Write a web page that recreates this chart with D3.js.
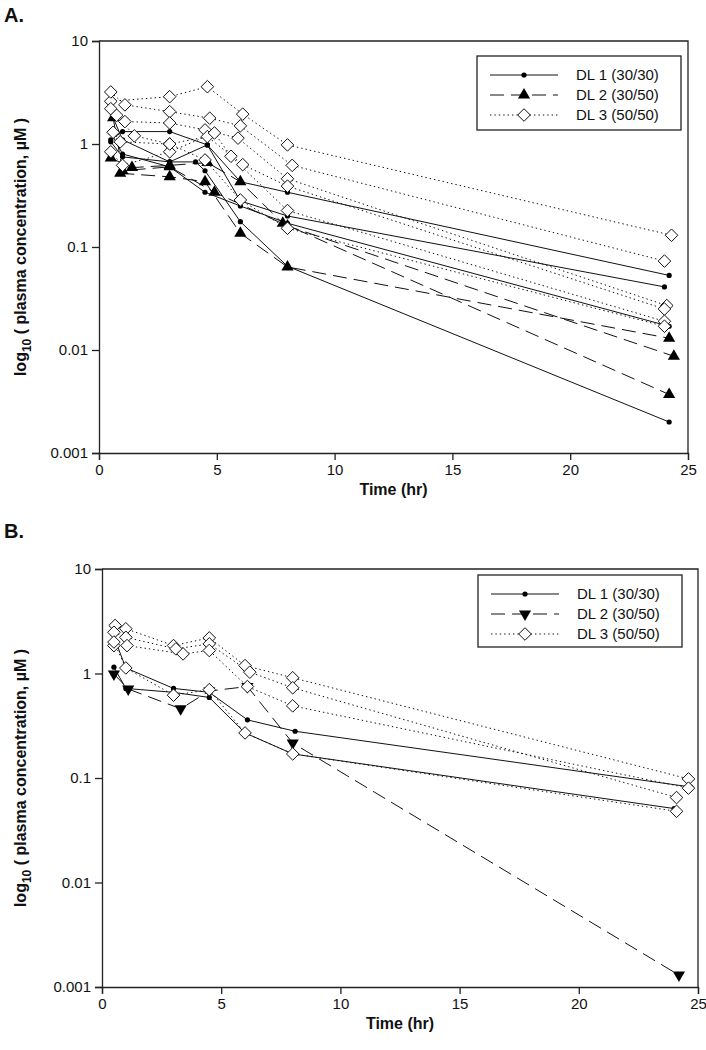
<!DOCTYPE html>
<html><head><meta charset="utf-8">
<script src="https://cdn.jsdelivr.net/npm/d3@7"></script>
<style>
body{margin:0;background:#fff}
svg{display:block}
text{font-family:"Liberation Sans",Arial,sans-serif;fill:#111}
</style>
</head><body>
<svg id="c" width="706" height="1050"></svg>
<script>
// ---------- shared tick labels / legend ----------
const xTicks = [0, 5, 10, 15, 20, 25];
const yTicks = [0.001, 0.01, 0.1, 1, 10];
const yTickLabels = ["0.001", "0.01", "0.1", "1", "10"];
const legendLabels = ["DL 1 (30/30)", "DL 2 (30/50)", "DL 3 (50/50)"];
const xTitle = "Time (hr)";

// ---------- Panel A data: [time (hr), concentration (uM)] per patient ----------
const A_DL1 = [
  [[0.5,1.1],[1,1.32],[3,1.32],[4.6,0.98],[6,0.43],[8,0.34],[24.2,0.053]],
  [[0.6,1.8],[1,1.1],[3,0.67],[4.6,0.98],[6,0.28],[8,0.2],[24,0.041]],
  [[0.5,1.05],[1,0.75],[3,0.67],[4.1,0.67],[4.5,0.55],[6,0.176],[8,0.065],[24.2,0.002]],
  [[0.5,1.3],[1,0.8],[3,0.6],[4.5,0.34],[6,0.25],[8,0.17],[24.2,0.017]]
];
const A_DL2 = [
  [[0.5,0.73],[1.4,0.59],[3,0.62],[4.6,0.66],[6,0.43],[7.8,0.17],[24.2,0.0037]],
  [[0.9,0.52],[3,0.48],[4.5,0.43],[6,0.136],[8,0.064],[24.2,0.013]],
  [[0.6,1.8],[1,0.55],[3,0.6],[4.9,0.34],[8,0.16],[24.4,0.0087]]
];
const A_DL3 = [
  [[0.5,2.6],[3,2.88],[4.6,3.6],[6.1,1.95],[8,0.98],[24.3,0.13]],
  [[0.5,3.2],[1.1,2.4],[3,2.06],[4.7,1.78],[6,1.5],[8.2,0.62],[24,0.073]],
  [[0.5,2.2],[1.1,1.65],[3,1.6],[4.5,1.37],[5.9,1.14],[8,0.46],[24.1,0.027]],
  [[0.6,1.3],[0.9,1.05],[3,1.0],[4.6,1.18],[6.1,0.63],[8,0.39],[24,0.025]],
  [[0.5,0.84],[1,0.62],[3,0.84],[4.9,1.28],[5.6,0.76],[8,0.226],[24,0.019]],
  [[0.75,1.9],[1.5,1.2],[3,1.0],[4.5,0.7],[6,0.286],[8,0.152],[24,0.017]]
];

// ---------- Panel B data ----------
const B_DL1 = [
  [[0.45,2.4],[1,1.13],[3,0.72],[4.5,0.66],[6.1,0.36],[8.1,0.28],[24.7,0.082]],
  [[0.5,1.15],[1,0.72],[3,0.66],[4.5,0.59],[6,0.27],[8,0.17],[24,0.051]]
];
const B_DL2 = [
  [[0.5,0.99],[1.1,0.71],[3.3,0.46],[4.5,0.68],[6.1,0.75],[8,0.216],[24.2,0.0013]]
];
const B_DL3 = [
  [[0.55,2.88],[1,2.68],[3,1.85],[4.5,2.19],[6,1.19],[8,0.91],[24.6,0.098]],
  [[0.5,2.48],[1,2.22],[3.1,1.72],[4.5,1.92],[6.2,1.03],[8,0.73],[24.1,0.065]],
  [[0.5,1.85],[1.05,1.85],[3.4,1.54],[4.5,1.66],[6.1,0.75],[8,0.49],[24.6,0.08]],
  [[0.5,2.0],[1,1.13],[3,0.62],[4.5,0.70],[6,0.27],[8,0.17],[24.1,0.048]]
];

const svg = d3.select("#c");

function diamondPath(r){ return `M0,${-r}L${r},0L0,${r}L${-r},0Z`; }

function drawPanel(cfg){
  const g = svg.append("g");
  const x = d3.scaleLinear().domain([0,25]).range([cfg.left, cfg.right]);
  const y = d3.scaleLog().domain([0.001,10]).range([cfg.bottom, cfg.top]);

  g.append("text").attr("x", 4).attr("y", cfg.letterY)
    .attr("font-size", 20).attr("font-weight", "bold").text(cfg.letter);

  g.append("path")
    .attr("d", `M${cfg.left},${cfg.top}H${cfg.right}V${cfg.bottom}`)
    .attr("fill","none").attr("stroke","#222").attr("stroke-width",1.3);

  const yAxis = d3.axisLeft(y).tickValues(yTicks)
    .tickFormat((d,i)=>yTickLabels[i]).tickSize(7).tickPadding(4);
  const ya = g.append("g").attr("transform",`translate(${cfg.left},0)`).call(yAxis);
  const xAxis = d3.axisBottom(x).tickValues(xTicks).tickSize(7).tickPadding(4);
  const xa = g.append("g").attr("transform",`translate(0,${cfg.bottom})`).call(xAxis);
  [ya, xa].forEach(a=>{
    a.select(".domain").attr("stroke","#222").attr("stroke-width",1.3);
    a.selectAll(".tick line").attr("stroke","#222").attr("stroke-width",1.3);
    a.selectAll(".tick text").attr("font-size",15)
      .attr("font-family","'Liberation Sans',Arial,sans-serif").attr("fill","#111");
  });

  g.append("text").attr("x",(cfg.left+cfg.right)/2).attr("y",cfg.bottom+42)
    .attr("text-anchor","middle").attr("font-size",16).attr("font-weight","bold").text(xTitle);
  const yt = g.append("text")
    .attr("transform",`translate(26,${(cfg.top+cfg.bottom)/2}) rotate(-90)`)
    .attr("text-anchor","middle").attr("font-size",16).attr("font-weight","bold");
  yt.append("tspan").text("log");
  yt.append("tspan").attr("font-size",12).attr("dy",5).text("10");
  yt.append("tspan").attr("dy",-5).text(" ( plasma concentration, \u00B5M )");

  const line = d3.line().x(d=>x(d[0])).y(d=>y(d[1]));
  const styles = [
    {data: cfg.dl1, dash: null, marker: "circle"},
    {data: cfg.dl2, dash: "14,7", marker: "triangle"},
    {data: cfg.dl3, dash: "1.4,3", marker: "diamond"}
  ];
  styles.forEach(s=>{
    g.append("g").selectAll("path").data(s.data).join("path")
      .attr("d", line).attr("fill","none").attr("stroke","#111")
      .attr("stroke-width",1).attr("stroke-dasharray", s.dash);
  });
  const tri = d3.symbol().type(d3.symbolTriangle).size(64)();
  function addMarker(sel, type){
    if(type==="circle"){
      sel.append("circle").attr("r",2.6).attr("fill","#000");
    } else if(type==="triangle"){
      sel.append("path").attr("d",tri).attr("fill","#000")
        .attr("transform", cfg.triDown ? "rotate(180)" : null);
    } else {
      sel.append("path").attr("d",diamondPath(6.3)).attr("fill","#fff")
        .attr("stroke","#111").attr("stroke-width",1);
    }
  }
  styles.forEach(s=>{
    const pts = s.data.flat();
    const mg = g.append("g").selectAll("g").data(pts).join("g")
      .attr("transform", d=>`translate(${x(d[0])},${y(d[1])})`);
    addMarker(mg, s.marker);
  });

  const L = cfg.legend;
  g.append("rect").attr("x",L.x).attr("y",L.y).attr("width",L.w).attr("height",L.h)
    .attr("fill","#fff").attr("stroke","#222").attr("stroke-width",1.3);
  styles.forEach((s,i)=>{
    const ry = L.y + 19 + i*20;
    const lg = g.append("g");
    lg.append("line").attr("x1",L.x+13).attr("x2",L.x+81).attr("y1",ry).attr("y2",ry)
      .attr("stroke","#111").attr("stroke-width",1).attr("stroke-dasharray", s.dash);
    const m = lg.append("g").attr("transform",`translate(${L.x+47},${ry})`);
    addMarker(m, s.marker);
    lg.append("text").attr("x",L.x+99).attr("y",ry+5).attr("font-size",15).text(legendLabels[i]);
  });
}

drawPanel({letter:"A.", letterY:22, left:99, right:688, top:41, bottom:453,
  dl1:A_DL1, dl2:A_DL2, dl3:A_DL3, triDown:false,
  legend:{x:477, y:56, w:204, h:74}});
drawPanel({letter:"B.", letterY:538, left:102, right:698, top:569, bottom:987,
  dl1:B_DL1, dl2:B_DL2, dl3:B_DL3, triDown:true,
  legend:{x:478, y:575, w:204, h:72}});
</script>
</body></html>
